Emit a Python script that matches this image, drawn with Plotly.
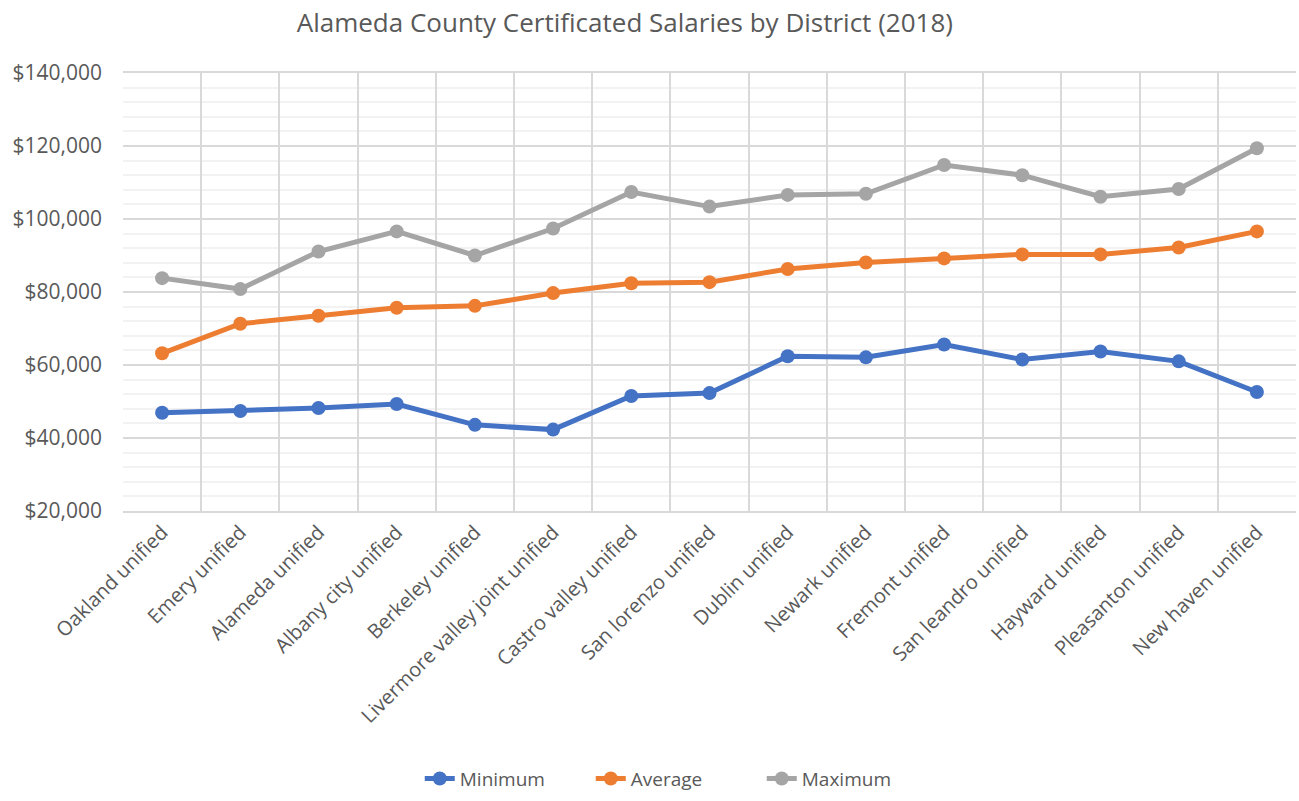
import plotly.graph_objects as go

districts = ["Oakland unified", "Emery unified", "Alameda unified", "Albany city unified",
             "Berkeley unified", "Livermore valley joint unified", "Castro valley unified",
             "San lorenzo unified", "Dublin unified", "Newark unified", "Fremont unified",
             "San leandro unified", "Hayward unified", "Pleasanton unified", "New haven unified"]
minimum = [46900, 47400, 48200, 49300, 43600, 42300, 51500, 52300, 62400, 62100,
           65600, 61500, 63700, 61000, 52600]
average = [63200, 71300, 73500, 75700, 76200, 79700, 82400, 82700, 86300, 88100,
           89200, 90300, 90300, 92200, 96600]
maximum = [83800, 80800, 91100, 96600, 90000, 97400, 107400, 103400, 106600, 106900,
           114800, 112000, 106100, 108200, 119400]

series = [("Minimum", minimum, "#4472C4"),
          ("Average", average, "#ED7D31"),
          ("Maximum", maximum, "#A5A5A5")]

FONT = "Open Sans, sans-serif"
fig = go.Figure()
for name, vals, col in series:
    fig.add_trace(go.Scatter(x=districts, y=vals, name=name, mode="lines+markers",
                             line=dict(color=col, width=5),
                             marker=dict(color=col, size=14)))

fig.update_layout(
    width=1299, height=801,
    paper_bgcolor="white", plot_bgcolor="white",
    margin=dict(l=123, r=3, t=73, b=283),
    title=dict(text="Alameda County Certificated Salaries by District (2018)",
               x=0.481, xanchor="center", y=0.972, yanchor="middle",
               font=dict(family=FONT, size=26, color="#595959")),
    font=dict(family=FONT, color="#595959"),
    showlegend=True,
    legend=dict(orientation="h", x=0.253, xanchor="left", y=-0.611, yanchor="middle",
                font=dict(size=19, color="#595959"),
                entrywidth=126, entrywidthmode="pixels"),
    xaxis=dict(type="category", tickson="boundaries", showgrid=True, automargin=False,
               gridcolor="#D9D9D9", gridwidth=1.5, ticks="", tickangle=-45,
               tickfont=dict(size=20, color="#595959"),
               showline=True, linecolor="#D9D9D9", linewidth=1.5, mirror=True,
               range=[-0.5, 14.5]),
    yaxis=dict(range=[20000, 140000], dtick=20000, tickprefix="$", tickformat=",",
               automargin=False, ticklabelstandoff=20,
               showgrid=True, gridcolor="#D9D9D9", gridwidth=1.5,
               tickfont=dict(size=21, color="#595959"), ticks="",
               zeroline=False, showline=False,
               minor=dict(dtick=4000, showgrid=True, gridcolor="#F2F2F2", gridwidth=1.5)),
)
fig.write_html("out.html", config={"displayModeBar": False},
               post_script="document.body.style.margin='0';document.body.style.overflow='hidden';")
